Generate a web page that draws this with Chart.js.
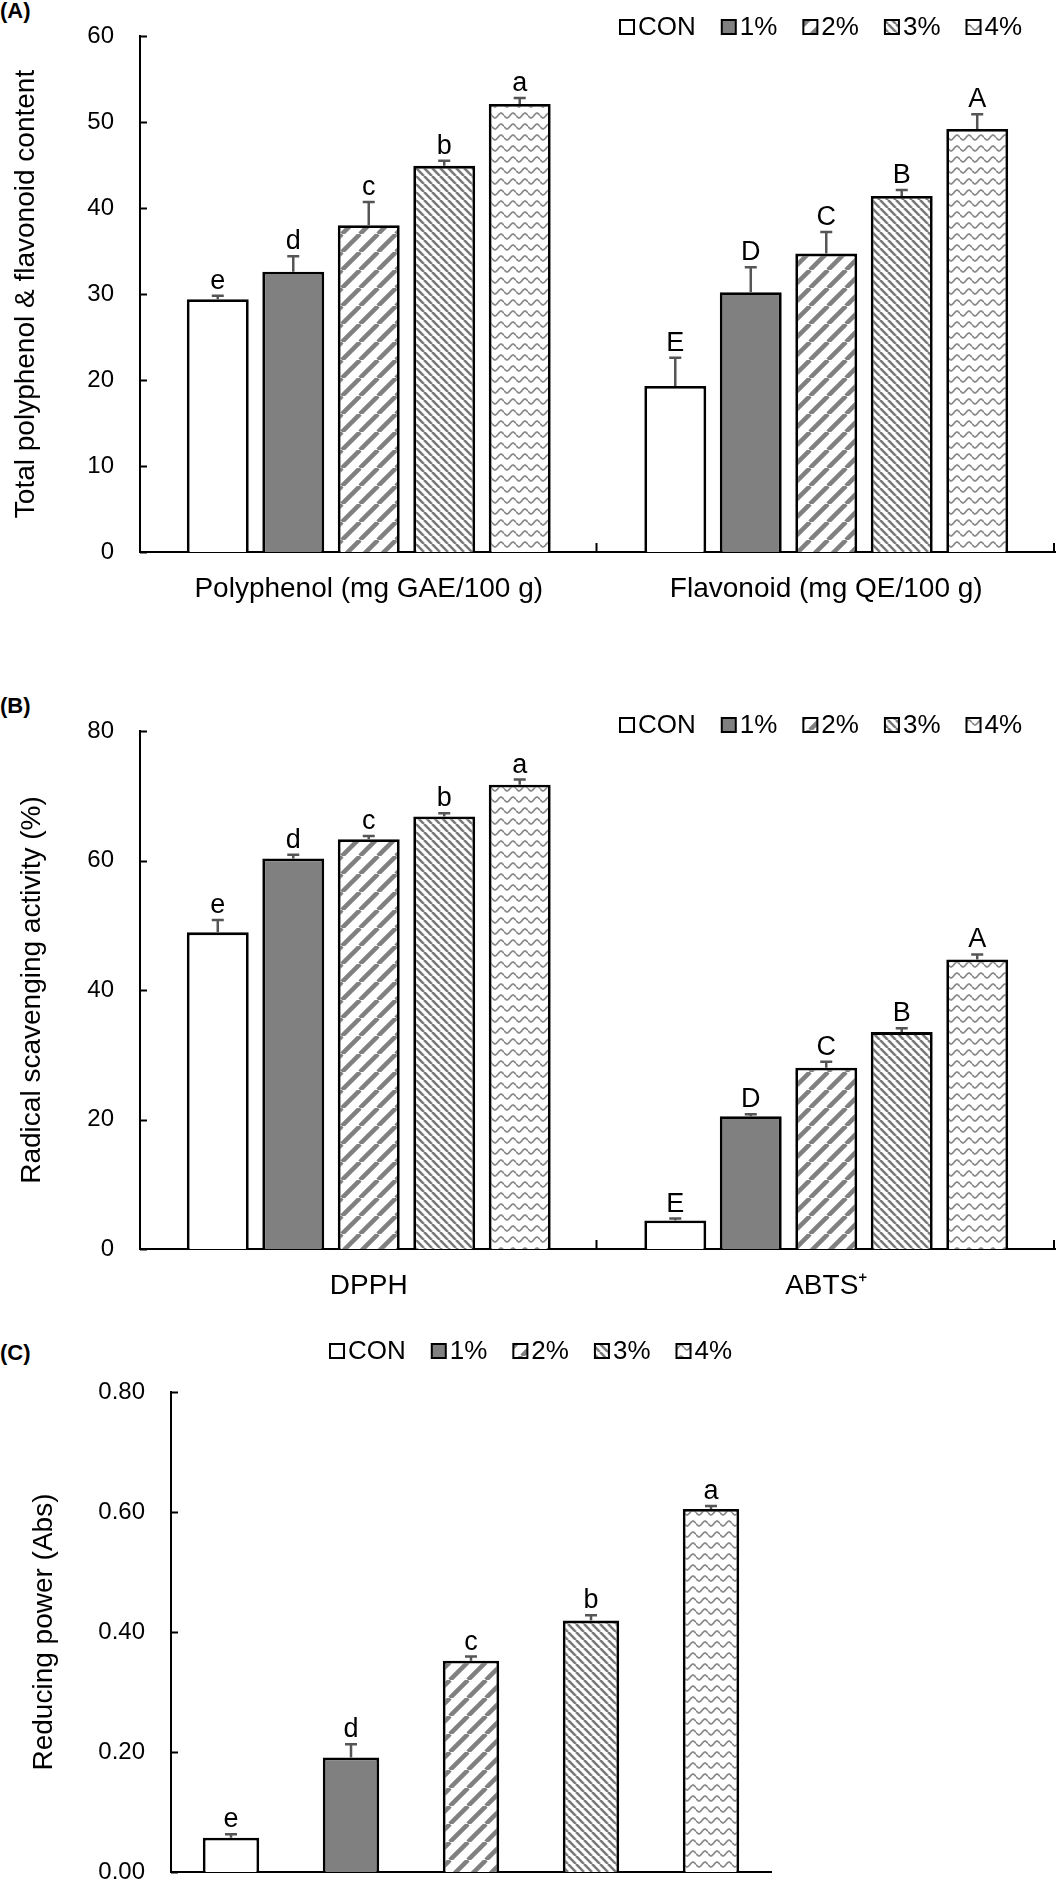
<!DOCTYPE html>
<html>
<head>
<meta charset="utf-8">
<script src="https://cdn.jsdelivr.net/npm/chart.js@4.4.1/dist/chart.umd.min.js"></script>
<style>
    html, body { margin: 0; padding: 0; background: #fff; }
    #page { position: relative; width: 1062px; height: 1880px; overflow: hidden; font-family: "Liberation Sans", Arial, sans-serif; }
    .panel { position: absolute; left: 0; width: 1062px; }
    .tag { position: absolute; left: 0; font-weight: bold; font-size: 22px; color: #000; }
</style>
</head>
<body>
<div id="page">
    <div class="tag" style="top:-2px;">(A)</div>
    <div class="panel" style="top:0px;height:620px;"><canvas id="chartA"></canvas></div>
    <div class="tag" style="top:693px;">(B)</div>
    <div class="panel" style="top:640px;height:680px;"><canvas id="chartB"></canvas></div>
    <div class="tag" style="top:1340px;">(C)</div>
    <div class="panel" style="top:1320px;height:560px;"><canvas id="chartC"></canvas></div>
</div>
<script>
'use strict';

var FONT = '"Liberation Sans", Arial, sans-serif';

// series (treatments)
var SERIES = ['CON', '1%', '2%', '3%', '4%'];

// (A) total polyphenol & flavonoid
var A_CATEGORIES = ['Polyphenol (mg GAE/100 g)', 'Flavonoid (mg QE/100 g)'];
var polyMean    = [29.4, 32.6, 38.0, 44.9, 52.1];
var polyErr     = [0.4, 1.8, 2.7, 0.6, 0.7];
var polyLetters = ['e', 'd', 'c', 'b', 'a'];
var flavMean    = [19.3, 30.2, 34.7, 41.4, 49.2];
var flavErr     = [3.3, 2.9, 2.5, 0.7, 1.7];
var flavLetters = ['E', 'D', 'C', 'B', 'A'];
var A_TICKS     = [0, 10, 20, 30, 40, 50, 60];

// (B) radical scavenging
var B_CATEGORIES = ['DPPH', 'ABTS\u207A'];
var dpphMean    = [48.9, 60.3, 63.3, 66.8, 71.7];
var dpphErr     = [1.9, 0.6, 0.5, 0.5, 0.8];
var dpphLetters = ['e', 'd', 'c', 'b', 'a'];
var abtsMean    = [4.4, 20.5, 28.0, 33.5, 44.7];
var abtsErr     = [0.3, 0.3, 0.9, 0.6, 0.8];
var abtsLetters = ['E', 'D', 'C', 'B', 'A'];
var B_TICKS     = [0, 20, 40, 60, 80];

// (C) reducing power
var redMean    = [0.057, 0.191, 0.352, 0.419, 0.605];
var redErr     = [0.006, 0.022, 0.007, 0.009, 0.005];
var redLetters = ['e', 'd', 'c', 'b', 'a'];
var C_TICKS    = [0, 0.2, 0.4, 0.6, 0.8];

/**
 * Build the fill for one treatment (plain, grey, stripes, waves)
 */
function makeFill(kind) {
    if (kind === 'white') {
        return '#ffffff';
    }
    if (kind === 'grey') {
        return '#808080';
    }
    var c = document.createElement('canvas');
    var x;
    var s, k;
    if (kind === 'wide') {
        s = 18;
        c.width = s; c.height = s;
        x = c.getContext('2d');
        x.fillStyle = '#fff'; x.fillRect(0, 0, s, s);
        x.strokeStyle = '#808080'; x.lineWidth = 4.5;
        for (k = -1; k <= 1; k++) {
            x.beginPath(); x.moveTo(k * s, s); x.lineTo(k * s + s, 0); x.stroke();
        }
    } else if (kind === 'dense') {
        s = 8;
        c.width = s; c.height = s;
        x = c.getContext('2d');
        x.fillStyle = '#fff'; x.fillRect(0, 0, s, s);
        x.strokeStyle = '#7a7a7a'; x.lineWidth = 2.6;
        for (k = -1; k <= 1; k++) {
            x.beginPath(); x.moveTo(k * s, 0); x.lineTo(k * s + s, s); x.stroke();
        }
    } else {
        c.width = 12; c.height = 11;
        x = c.getContext('2d');
        x.fillStyle = '#fff'; x.fillRect(0, 0, 12, 11);
        x.strokeStyle = '#8a8a8a'; x.lineWidth = 1.7;
        x.beginPath();
        for (k = 0; k <= 12; k += 0.5) {
            var yy = 5.5 + 2.4 * Math.sin(k / 12 * 2 * Math.PI);
            if (k === 0) { x.moveTo(k, yy); } else { x.lineTo(k, yy); }
        }
        x.stroke();
    }
    return x.createPattern(c, 'repeat');
}

var FILLS = [makeFill('white'), makeFill('grey'), makeFill('wide'), makeFill('dense'), makeFill('wave')];

/**
 * Error bars + significance letters
 */
var errorBarPlugin = {
    id: 'errorBars',
    afterDatasetsDraw: function (chart) {
        var ctx    = chart.ctx;
        var yScale = chart.scales.y;
        chart.data.datasets.forEach(function (ds, di) {
            var meta = chart.getDatasetMeta(di);
            meta.data.forEach(function (bar, i) {
                var yTop = yScale.getPixelForValue(ds.data[i] + ds.errors[i]);
                ctx.save();
                ctx.strokeStyle = '#555';
                ctx.lineWidth   = 2.5;
                ctx.beginPath();
                ctx.moveTo(bar.x, bar.y);
                ctx.lineTo(bar.x, yTop);
                ctx.moveTo(bar.x - 6, yTop);
                ctx.lineTo(bar.x + 6, yTop);
                ctx.stroke();
                ctx.fillStyle    = '#000';
                ctx.font         = '27px ' + FONT;
                ctx.textAlign    = 'center';
                ctx.textBaseline = 'alphabetic';
                ctx.fillText(ds.letters[i], bar.x, yTop - 7);
                ctx.restore();
            });
        });
    }
};

/**
 * Inside y ticks and category boundary ticks on x
 */
var axisMarksPlugin = {
    id: 'axisMarks',
    afterDraw: function (chart, args, opts) {
        var ctx  = chart.ctx;
        var area = chart.chartArea;
        var y    = chart.scales.y;
        ctx.save();
        ctx.strokeStyle = '#000';
        ctx.lineWidth   = 2;
        ctx.beginPath();
        y.ticks.forEach(function (t) {
            var py = Math.round(y.getPixelForValue(t.value)) + 0.5;
            ctx.moveTo(area.left, py);
            ctx.lineTo(area.left + 7, py);
        });
        if (opts.boundaries) {
            var n = chart.data.labels.length;
            for (var k = 1; k <= n; k++) {
                var px = area.left + (area.right - area.left) * k / n - 1;
                ctx.moveTo(px, area.bottom);
                ctx.lineTo(px, area.bottom - 9);
            }
        }
        ctx.stroke();
        ctx.restore();
    }
};

/**
 * Legend row with patterned swatches
 */
var swatchLegendPlugin = {
    id: 'swatchLegend',
    afterDraw: function (chart, args, opts) {
        var ctx = chart.ctx;
        var x   = opts.x;
        ctx.save();
        ctx.font         = '26px ' + FONT;
        ctx.textBaseline = 'middle';
        ctx.textAlign    = 'left';
        SERIES.forEach(function (name, i) {
            ctx.fillStyle = FILLS[i];
            ctx.fillRect(x, opts.y - 7, 14, 14);
            ctx.strokeStyle = '#000';
            ctx.lineWidth   = 2;
            ctx.strokeRect(x, opts.y - 7, 14, 14);
            ctx.fillStyle = '#000';
            ctx.fillText(name, x + 18, opts.y + 1);
            x += 18 + ctx.measureText(name).width + 26;
        });
        ctx.restore();
    }
};

function yScaleOpts(ticks, title, width, titlePad, decimals) {
    return {
        min: ticks[0],
        max: ticks[ticks.length - 1],
        afterBuildTicks: function (scale) {
            scale.ticks = ticks.map(function (v) { return { value: v }; });
        },
        ticks: {
            color: '#000',
            padding: 26,
            font: { size: 24, family: FONT },
            callback: function (v) { return decimals ? Number(v).toFixed(decimals) : v; }
        },
        grid: { display: false, drawTicks: false },
        border: { display: true, color: '#000', width: 2 },
        title: { display: true, text: title, color: '#000', font: { size: 28, family: FONT }, padding: { top: titlePad, bottom: 0 } },
        afterFit: function (scale) {
            scale.width = width;
            // the layout padding alone decides where the plot starts and ends
            scale.paddingTop = 0;
            scale.paddingBottom = 0;
        }
    };
}

function xScaleOpts(height, showLabels) {
    return {
        ticks: { display: showLabels, color: '#000', padding: 20, font: { size: 28, family: FONT } },
        grid: { display: false, drawTicks: false },
        border: { display: true, color: '#000', width: 2 },
        afterFit: function (scale) {
            scale.height = height;
            scale.paddingLeft = 0;
            scale.paddingRight = 0;
        }
    };
}

function groupedDatasets(meanA, errA, letA, meanB, errB, letB) {
    return SERIES.map(function (name, i) {
        return {
            label: name,
            data: [meanA[i], meanB[i]],
            errors: [errA[i], errB[i]],
            letters: [letA[i], letB[i]],
            backgroundColor: FILLS[i],
            borderColor: '#000',
            borderWidth: 2.8,
            borderSkipped: 'bottom',
            categoryPercentage: 0.825,
            barPercentage: 0.82
        };
    });
}

var baseOpts = function (padding, legendX, legendY, boundaries) {
    return {
        responsive: true,
        maintainAspectRatio: false,
        animation: false,
        devicePixelRatio: 1,
        layout: { padding: padding },
        plugins: {
            legend: { display: false },
            tooltip: { enabled: false },
            swatchLegend: { x: legendX, y: legendY },
            axisMarks: { boundaries: boundaries }
        }
    };
};

// (A)
var optsA = baseOpts({ top: 36, right: 7, left: 0, bottom: 0 }, 620, 27, true);
optsA.scales = {
    x: xScaleOpts(68, true),
    y: yScaleOpts(A_TICKS, 'Total polyphenol & flavonoid content', 140, 9, 0)
};
new Chart(document.getElementById('chartA'), {
    type: 'bar',
    data: { labels: A_CATEGORIES, datasets: groupedDatasets(polyMean, polyErr, polyLetters, flavMean, flavErr, flavLetters) },
    options: optsA,
    plugins: [errorBarPlugin, axisMarksPlugin, swatchLegendPlugin]
});

// (B)
var optsB = baseOpts({ top: 91, right: 7, left: 0, bottom: 0 }, 620, 85, true);
optsB.scales = {
    x: xScaleOpts(71, true),
    y: yScaleOpts(B_TICKS, 'Radical scavenging activity (%)', 140, 15, 0)
};
new Chart(document.getElementById('chartB'), {
    type: 'bar',
    data: { labels: B_CATEGORIES, datasets: groupedDatasets(dpphMean, dpphErr, dpphLetters, abtsMean, abtsErr, abtsLetters) },
    options: optsB,
    plugins: [errorBarPlugin, axisMarksPlugin, swatchLegendPlugin]
});

// (C)
var optsC = baseOpts({ top: 72, right: 291, left: 0, bottom: 0 }, 330, 31, false);
optsC.scales = {
    x: xScaleOpts(8, false),
    y: yScaleOpts(C_TICKS, 'Reducing power (Abs)', 171, 27, 2)
};
new Chart(document.getElementById('chartC'), {
    type: 'bar',
    data: {
        labels: SERIES,
        datasets: [{
            label: 'Reducing power',
            data: redMean,
            errors: redErr,
            letters: redLetters,
            backgroundColor: FILLS,
            borderColor: '#000',
            borderWidth: 2.8,
            borderSkipped: 'bottom',
            categoryPercentage: 1,
            barPercentage: 0.47
        }]
    },
    options: optsC,
    plugins: [errorBarPlugin, axisMarksPlugin, swatchLegendPlugin]
});
</script>
</body>
</html>
